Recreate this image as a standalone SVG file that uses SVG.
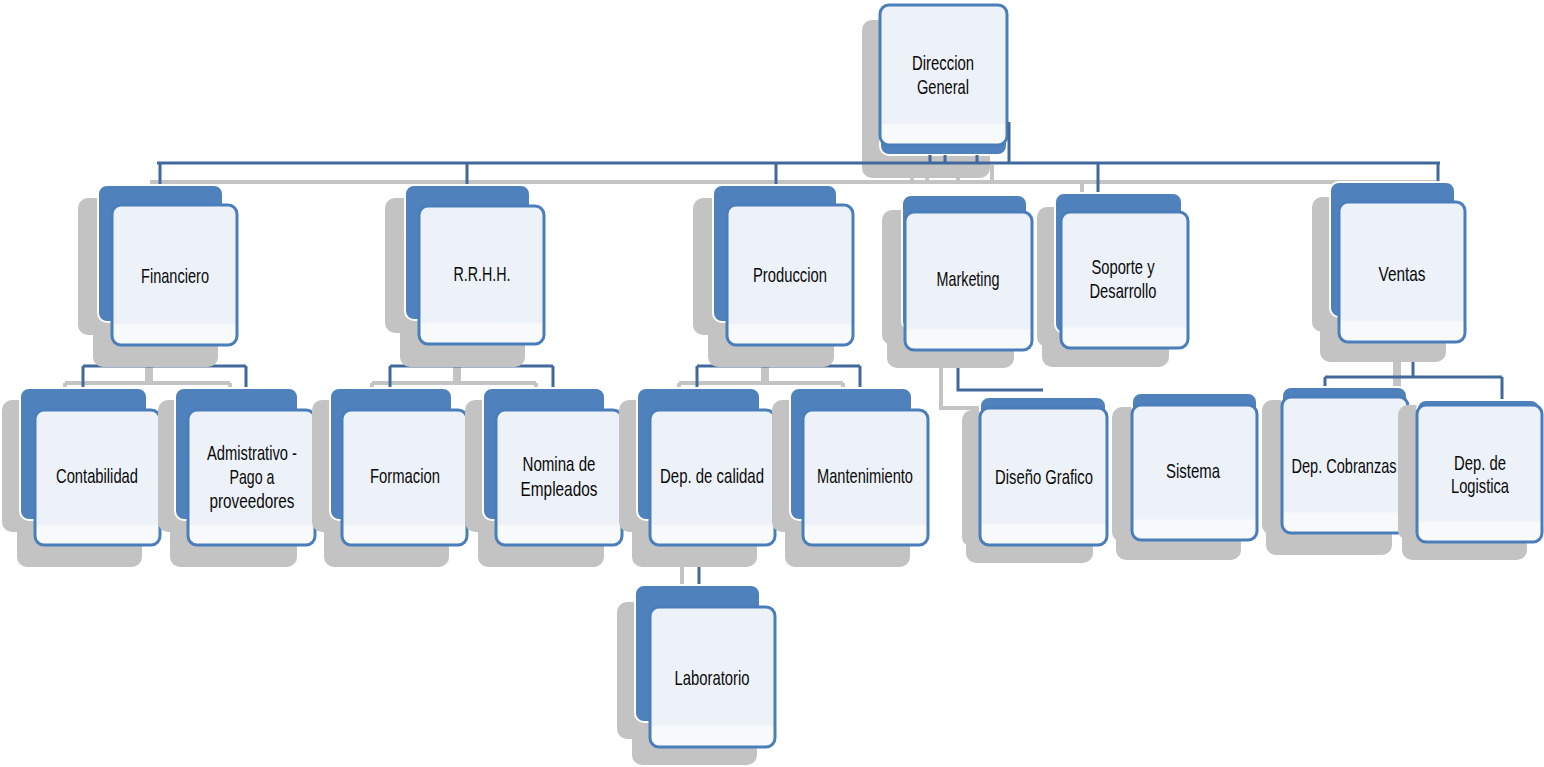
<svg xmlns="http://www.w3.org/2000/svg" width="1544" height="767" viewBox="0 0 1544 767">
<defs>
<linearGradient id="fg" x1="0" y1="0" x2="0" y2="1">
<stop offset="0" stop-color="#EDF2F9"/><stop offset="0.84" stop-color="#EDF2F9"/><stop offset="0.86" stop-color="#F8F9FB"/><stop offset="1" stop-color="#F8F9FB"/>
</linearGradient>
</defs>
<style>
.sh{fill:#C3C3C3}
.bk{fill:#4F81BD;stroke:#FFFFFF;stroke-width:2}
.fr{fill:url(#fg);stroke:#4A7EBB;stroke-width:3}
.t{font-family:"Liberation Sans",Arial,sans-serif;font-size:21px;fill:#0A0A0A;text-anchor:middle}
.cb{fill:none;stroke:#41699C;stroke-width:3}
.cg{fill:none;stroke:#C4C4C4;stroke-width:4}
</style>
<rect width="1544" height="767" fill="#FFFFFF"/>

<g id="connectors-shadow">
<path class="cg" d="M150 182 H1437"/>
<path class="cg" d="M912 165 V182 M927 165 V182 M958 165 V182 M992 165 V182 M1082 182 V205"/>
<path class="cg" d="M147 345 V383 M151 345 V383 M65 383 H230 M65 383 V400 M230 383 V400"/>
<path class="cg" d="M455 345 V383 M459 345 V383 M372 383 H536 M372 383 V400 M536 383 V400"/>
<path class="cg" d="M763 345 V383 M767 345 V383 M679 383 H843 M679 383 V400 M843 383 V400"/>
<path class="cg" d="M682 555 V602"/>
<path class="cg" d="M941 368 V408 H980"/>
<path class="cg" d="M1395 362 V395 M1399 362 V395"/>
</g>

<g id="n-direccion">
<rect class="sh" x="862" y="20" width="128" height="158" rx="10"/>
<rect class="bk" x="880" y="18" width="127" height="137" rx="9"/>
<rect class="fr" x="880" y="5" width="127" height="140" rx="9"/>
<text class="t" x="943" y="70" textLength="62" lengthAdjust="spacingAndGlyphs">Direccion</text>
<text class="t" x="943" y="94" textLength="52" lengthAdjust="spacingAndGlyphs">General</text>
</g>

<g id="connectors">
<path class="cb" d="M1009 122 V163 M157 163 H1440"/>
<path class="cb" d="M930 155 V163 M945 155 V163 M977 155 V163"/>
<path class="cb" d="M160 163 V186 M467 163 V186 M776 163 V186 M1098 163 V194 M1438 163 V183"/>
<path class="cb" d="M166 345 V366 M83 366 H246 M83 366 V389 M246 366 V389"/>
<path class="cb" d="M474 345 V366 M390 366 H553 M390 366 V389 M553 366 V389"/>
<path class="cb" d="M782 345 V366 M697 366 H860 M697 366 V389 M860 366 V389"/>
<path class="cb" d="M699 545 V586"/>
<path class="cb" d="M958 350 V390 H1043"/>
<path class="cb" d="M1413 342 V377 M1325 377 H1502 M1325 377 V388 M1502 377 V401"/>
</g>

<g id="n-financiero">
<rect class="sh" x="78" y="198" width="125" height="137" rx="10"/>
<rect class="sh" x="93" y="227" width="125" height="140" rx="10"/>
<rect class="bk" x="98" y="185" width="125" height="137" rx="9"/>
<rect class="fr" x="112" y="205" width="125" height="140" rx="9"/>
<text class="t" x="175" y="283" textLength="68" lengthAdjust="spacingAndGlyphs">Financiero</text>
</g>

<g id="n-rrhh">
<rect class="sh" x="385" y="198" width="125" height="135" rx="10"/>
<rect class="sh" x="400" y="227" width="125" height="140" rx="10"/>
<rect class="bk" x="405" y="185" width="125" height="135" rx="9"/>
<rect class="fr" x="419" y="206" width="125" height="138" rx="9"/>
<text class="t" x="482" y="281" textLength="57" lengthAdjust="spacingAndGlyphs">R.R.H.H.</text>
</g>

<g id="n-produccion">
<rect class="sh" x="693" y="198" width="124" height="137" rx="10"/>
<rect class="sh" x="708" y="227" width="126" height="140" rx="10"/>
<rect class="bk" x="713" y="185" width="124" height="137" rx="9"/>
<rect class="fr" x="727" y="205" width="126" height="140" rx="9"/>
<text class="t" x="790" y="282" textLength="74" lengthAdjust="spacingAndGlyphs">Produccion</text>
</g>

<g id="n-marketing">
<rect class="sh" x="882" y="210" width="125" height="135" rx="10"/>
<rect class="sh" x="887" y="230" width="127" height="138" rx="10"/>
<rect class="bk" x="902" y="195" width="125" height="135" rx="9"/>
<rect class="fr" x="905" y="212" width="127" height="138" rx="9"/>
<text class="t" x="968" y="286" textLength="63" lengthAdjust="spacingAndGlyphs">Marketing</text>
</g>

<g id="n-soporte">
<rect class="sh" x="1037" y="207" width="127" height="140" rx="10"/>
<rect class="sh" x="1042" y="228" width="127" height="139" rx="10"/>
<rect class="bk" x="1055" y="193" width="127" height="140" rx="9"/>
<rect class="fr" x="1061" y="212" width="127" height="136" rx="9"/>
<text class="t" x="1123" y="274" textLength="63" lengthAdjust="spacingAndGlyphs">Soporte y</text>
<text class="t" x="1123" y="298" textLength="67" lengthAdjust="spacingAndGlyphs">Desarrollo</text>
</g>

<g id="n-ventas">
<rect class="sh" x="1312" y="197" width="125" height="135" rx="10"/>
<rect class="sh" x="1320" y="222" width="126" height="140" rx="10"/>
<rect class="bk" x="1330" y="182" width="125" height="135" rx="9"/>
<rect class="fr" x="1339" y="202" width="126" height="140" rx="9"/>
<text class="t" x="1402" y="281" textLength="47" lengthAdjust="spacingAndGlyphs">Ventas</text>
</g>

<g id="n-contabilidad">
<rect class="sh" x="2" y="400" width="127" height="132" rx="10"/>
<rect class="sh" x="17" y="430" width="125" height="137" rx="10"/>
<rect class="bk" x="20" y="388" width="127" height="132" rx="9"/>
<rect class="fr" x="35" y="410" width="125" height="135" rx="9"/>
<text class="t" x="97" y="483" textLength="82" lengthAdjust="spacingAndGlyphs">Contabilidad</text>
</g>

<g id="n-administrativo">
<rect class="sh" x="158" y="400" width="123" height="132" rx="10"/>
<rect class="sh" x="170" y="430" width="127" height="137" rx="10"/>
<rect class="bk" x="175" y="388" width="123" height="132" rx="9"/>
<rect class="fr" x="188" y="410" width="127" height="135" rx="9"/>
<text class="t" x="252" y="460" textLength="90" lengthAdjust="spacingAndGlyphs">Admistrativo -</text>
<text class="t" x="252" y="484" textLength="45" lengthAdjust="spacingAndGlyphs">Pago a</text>
<text class="t" x="252" y="508" textLength="85" lengthAdjust="spacingAndGlyphs">proveedores</text>
</g>

<g id="n-formacion">
<rect class="sh" x="312" y="400" width="122" height="132" rx="10"/>
<rect class="sh" x="324" y="430" width="125" height="137" rx="10"/>
<rect class="bk" x="330" y="388" width="122" height="132" rx="9"/>
<rect class="fr" x="342" y="410" width="125" height="135" rx="9"/>
<text class="t" x="405" y="483" textLength="70" lengthAdjust="spacingAndGlyphs">Formacion</text>
</g>

<g id="n-nomina">
<rect class="sh" x="465" y="400" width="122" height="132" rx="10"/>
<rect class="sh" x="478" y="430" width="126" height="137" rx="10"/>
<rect class="bk" x="483" y="388" width="122" height="132" rx="9"/>
<rect class="fr" x="496" y="410" width="126" height="135" rx="9"/>
<text class="t" x="559" y="471" textLength="73" lengthAdjust="spacingAndGlyphs">Nomina de</text>
<text class="t" x="559" y="496" textLength="77" lengthAdjust="spacingAndGlyphs">Empleados</text>
</g>

<g id="n-calidad">
<rect class="sh" x="619" y="400" width="123" height="132" rx="10"/>
<rect class="sh" x="632" y="430" width="125" height="137" rx="10"/>
<rect class="bk" x="637" y="388" width="123" height="132" rx="9"/>
<rect class="fr" x="650" y="410" width="125" height="135" rx="9"/>
<text class="t" x="712" y="483" textLength="104" lengthAdjust="spacingAndGlyphs">Dep. de calidad</text>
</g>

<g id="n-mantenimiento">
<rect class="sh" x="772" y="400" width="122" height="132" rx="10"/>
<rect class="sh" x="785" y="430" width="125" height="137" rx="10"/>
<rect class="bk" x="790" y="388" width="122" height="132" rx="9"/>
<rect class="fr" x="803" y="410" width="125" height="135" rx="9"/>
<text class="t" x="865" y="483" textLength="96" lengthAdjust="spacingAndGlyphs">Mantenimiento</text>
</g>

<g id="n-laboratorio">
<rect class="sh" x="617" y="602" width="125" height="137" rx="10"/>
<rect class="sh" x="632" y="627" width="125" height="138" rx="10"/>
<rect class="bk" x="635" y="585" width="125" height="137" rx="9"/>
<rect class="fr" x="650" y="607" width="125" height="140" rx="9"/>
<text class="t" x="712" y="685" textLength="75" lengthAdjust="spacingAndGlyphs">Laboratorio</text>
</g>

<g id="n-diseno">
<rect class="sh" x="962" y="410" width="127" height="137" rx="10"/>
<rect class="sh" x="966" y="426" width="127" height="137" rx="10"/>
<rect class="bk" x="980" y="397" width="126" height="140" rx="9"/>
<rect class="fr" x="980" y="408" width="127" height="137" rx="9"/>
<text class="t" x="1044" y="484" textLength="98" lengthAdjust="spacingAndGlyphs">Diseño Grafico</text>
</g>

<g id="n-sistema">
<rect class="sh" x="1112" y="407" width="125" height="135" rx="10"/>
<rect class="sh" x="1116" y="425" width="125" height="135" rx="10"/>
<rect class="bk" x="1132" y="393" width="125" height="140" rx="9"/>
<rect class="fr" x="1132" y="405" width="125" height="135" rx="9"/>
<text class="t" x="1193" y="478" textLength="54" lengthAdjust="spacingAndGlyphs">Sistema</text>
</g>

<g id="n-cobranzas">
<rect class="sh" x="1262" y="400" width="125" height="135" rx="10"/>
<rect class="sh" x="1266" y="420" width="126" height="135" rx="10"/>
<rect class="bk" x="1282" y="387" width="125" height="140" rx="9"/>
<rect class="fr" x="1282" y="397" width="126" height="136" rx="9"/>
<text class="t" x="1344" y="473" textLength="105" lengthAdjust="spacingAndGlyphs">Dep. Cobranzas</text>
</g>

<g id="n-logistica">
<rect class="sh" x="1398" y="405" width="123" height="135" rx="10"/>
<rect class="sh" x="1402" y="423" width="125" height="137" rx="10"/>
<rect class="bk" x="1417" y="400" width="123" height="137" rx="9"/>
<rect class="fr" x="1417" y="405" width="125" height="137" rx="9"/>
<text class="t" x="1480" y="470" textLength="52" lengthAdjust="spacingAndGlyphs">Dep. de</text>
<text class="t" x="1480" y="493" textLength="58" lengthAdjust="spacingAndGlyphs">Logistica</text>
</g>
</svg>
